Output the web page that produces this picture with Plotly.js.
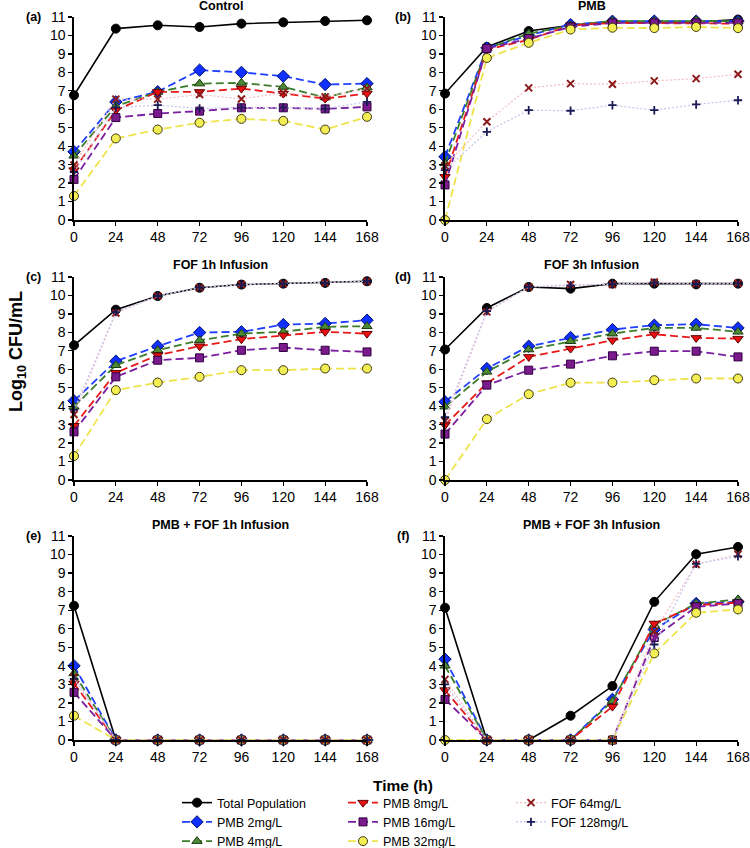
<!DOCTYPE html>
<html><head><meta charset="utf-8">
<script src="https://cdn.plot.ly/plotly-3.0.1.min.js"></script>
<style>body{margin:0;padding:0;background:#fff}#chart{width:750px;height:848px}</style>
</head><body><div id="chart"></div>
<script>
// ---------- DATA ----------
const hours = [0, 24, 48, 72, 96, 120, 144, 168];
const hourTicks = ['0', '24', '48', '72', '96', '120', '144', '168'];
const logTicks = [0, 1, 2, 3, 4, 5, 6, 7, 8, 9, 10, 11];
const panelTitles = ['Control', 'PMB', 'FOF 1h Infusion', 'FOF 3h Infusion', 'PMB + FOF 1h Infusion', 'PMB + FOF 3h Infusion'];
const panelLabels = ['(a)', '(b)', '(c)', '(d)', '(e)', '(f)'];
const seriesNames = ['Total Population', 'PMB 2mg/L', 'PMB 4mg/L', 'PMB 8mg/L', 'PMB 16mg/L', 'PMB 32mg/L', 'FOF 64mg/L', 'FOF 128mg/L'];

// each row is one panel: (a) .. (f)
const totalPopulation = [
  [6.76, 10.37, 10.55, 10.46, 10.64, 10.71, 10.78, 10.82],
  [6.85, 9.38, 10.24, 10.55, 10.73, 10.73, 10.73, 10.86],
  [7.30, 9.23, 9.97, 10.42, 10.59, 10.64, 10.68, 10.77],
  [7.07, 9.32, 10.46, 10.37, 10.64, 10.64, 10.60, 10.64],
  [7.24, 0, 0, 0, 0, 0, 0, 0],
  [7.13, 0, 0, 1.31, 2.91, 7.45, 10.02, 10.41]
];
const pmb2 = [
  [3.70, 6.40, 6.95, 8.12, 8.00, 7.79, 7.34, 7.39],
  [3.43, 9.32, 10.00, 10.59, 10.77, 10.78, 10.78, 10.78],
  [4.29, 6.44, 7.25, 7.99, 8.03, 8.42, 8.48, 8.66],
  [4.24, 6.04, 7.25, 7.72, 8.15, 8.39, 8.44, 8.24],
  [4.00, 0, 0, 0, 0, 0, 0, 0],
  [4.36, 0, 0, 0, 2.19, 5.96, 7.36, 7.45]
];
const pmb4 = [
  [3.48, 6.17, 6.94, 7.39, 7.43, 7.21, 6.64, 7.18],
  [3.07, 9.29, 10.10, 10.55, 10.78, 10.78, 10.82, 10.78],
  [3.97, 6.22, 7.03, 7.57, 7.93, 8.03, 8.30, 8.33],
  [3.97, 5.86, 7.07, 7.52, 7.93, 8.24, 8.24, 8.03],
  [3.59, 0, 0, 0, 0, 0, 0, 0],
  [4.00, 0, 0, 0, 2.10, 6.19, 7.36, 7.58]
];
const pmb8 = [
  [2.70, 5.95, 6.94, 6.94, 7.12, 6.85, 6.58, 6.85],
  [2.34, 9.23, 9.77, 10.55, 10.68, 10.68, 10.68, 10.64],
  [2.94, 5.81, 6.76, 7.25, 7.63, 7.84, 8.03, 7.93],
  [2.98, 5.25, 6.67, 7.12, 7.57, 7.90, 7.70, 7.66],
  [3.05, 0, 0, 0, 0, 0, 0, 0],
  [2.69, 0, 0, 0, 1.80, 6.28, 7.27, 7.41]
];
const pmb16 = [
  [2.20, 5.55, 5.77, 5.90, 6.08, 6.08, 6.02, 6.13],
  [1.90, 9.29, 9.83, 10.46, 10.68, 10.68, 10.68, 10.68],
  [2.61, 5.59, 6.49, 6.62, 7.03, 7.18, 7.03, 6.94],
  [2.49, 5.14, 5.95, 6.28, 6.73, 6.98, 6.98, 6.67],
  [2.57, 0, 0, 0, 0, 0, 0, 0],
  [2.19, 0, 0, 0, 0, 5.53, 7.18, 7.36]
];
const pmb32 = [
  [1.30, 4.42, 4.90, 5.27, 5.48, 5.37, 4.90, 5.59],
  [0, 8.78, 9.60, 10.32, 10.42, 10.40, 10.46, 10.40],
  [1.30, 4.87, 5.28, 5.59, 5.95, 5.95, 6.04, 6.04],
  [0, 3.30, 4.65, 5.27, 5.28, 5.41, 5.50, 5.50],
  [1.31, 0, 0, 0, 0, 0, 0, 0],
  [0, 0, 0, 0, 0, 4.67, 6.86, 7.04]
];
const fof64 = [
  [2.98, 6.55, 6.55, 6.80, 6.56, 6.90, 6.67, 7.12],
  [2.94, 5.32, 7.16, 7.39, 7.36, 7.54, 7.66, 7.90],
  [3.55, 9.05, 9.97, 10.42, 10.59, 10.64, 10.68, 10.77],
  [3.19, 9.11, 10.46, 10.59, 10.59, 10.73, 10.64, 10.66],
  [3.40, 0, 0, 0, 0, 0, 0, 0],
  [3.27, 0, 0, 0, 0, 5.85, 9.46, 10.02]
];
const fof128 = [
  [2.60, 6.10, 6.22, 6.04, 6.10, 6.10, 6.04, 6.40],
  [2.70, 4.78, 5.95, 5.92, 6.22, 5.95, 6.26, 6.49],
  [3.80, 9.10, 9.97, 10.42, 10.59, 10.64, 10.68, 10.77],
  [3.40, 9.15, 10.46, 10.55, 10.62, 10.68, 10.62, 10.64],
  [3.30, 0, 0, 0, 0, 0, 0, 0],
  [3.00, 0, 0, 0, 0, 5.15, 9.50, 9.90]
];

// ---------- STYLES ----------
const seriesData = [totalPopulation, pmb2, pmb4, pmb8, pmb16, pmb32, fof64, fof128];
const DASH = '8px,4px';
const styles = [
  {line: {color: '#000000', width: 1.6}, marker: {symbol: 'circle', size: 9, color: '#000000', line: {color: '#000000', width: 1}}},
  {line: {color: '#1f3fff', width: 1.8, dash: DASH}, marker: {symbol: 'diamond', size: 9.5, color: '#1030ff', line: {color: '#001070', width: 1}}},
  {line: {color: '#3b7d2a', width: 1.8, dash: DASH}, marker: {symbol: 'triangle-up', size: 9, color: '#4d8a35', line: {color: '#1a3a10', width: 1}}},
  {line: {color: '#e81818', width: 1.8, dash: DASH}, marker: {symbol: 'triangle-down', size: 9, color: '#e81010', line: {color: '#600000', width: 1}}},
  {line: {color: '#7a1fa0', width: 1.8, dash: DASH}, marker: {symbol: 'square', size: 8, color: '#7a1a8c', line: {color: '#300040', width: 1}}},
  {line: {color: '#efe34a', width: 1.8, dash: DASH}, marker: {symbol: 'circle', size: 9, color: '#f4ee55', line: {color: '#403a10', width: 1}}},
  {line: {color: '#f2bcc6', width: 1.2, dash: '2px,2px'}, marker: {symbol: 'x-thin-open', size: 7, color: '#8b1a1a', line: {color: '#8b1a1a', width: 2}}},
  {line: {color: '#c4c4ee', width: 1.2, dash: '2px,2px'}, marker: {symbol: 'cross-thin-open', size: 6, color: '#1a1a55', line: {color: '#1a1a55', width: 1.8}}}
];
const legendOf = ['legend', 'legend', 'legend', 'legend2', 'legend2', 'legend2', 'legend3', 'legend3'];

const W = 750, H = 848;
const colX = [[74 / W, 367 / W], [445 / W, 738 / W]];
const rowY = [[1 - 220 / H, 1 - 17 / H], [1 - 480 / H, 1 - 277 / H], [1 - 740 / H, 1 - 536 / H]];
const titleY = [6, 265, 525];
const labelY = [17, 277, 536];
const labelX = [33, 403];
const legendLeft = [177, 343, 511];
const legendTop = 788;

const traces = [];
const layout = {
  width: W, height: H,
  margin: {l: 0, r: 0, t: 0, b: 0, autoexpand: false},
  paper_bgcolor: '#ffffff', plot_bgcolor: '#ffffff',
  font: {family: 'Liberation Sans, Arial, sans-serif', color: '#000000'},
  showlegend: true,
  annotations: []
};
['legend', 'legend2', 'legend3'].forEach(function (lg, i) {
  layout[lg] = {
    orientation: 'v', x: legendLeft[i] / W, xanchor: 'left', y: 1 - legendTop / H, yanchor: 'top',
    font: {size: 12.5, color: '#000'}, bgcolor: 'rgba(0,0,0,0)', borderwidth: 0,
    tracegroupgap: 0, itemwidth: 30
  };
});

for (let p = 0; p < 6; p++) {
  const col = p % 2, row = Math.floor(p / 2);
  const sfx = p === 0 ? '' : String(p + 1);
  for (let s = 0; s < seriesData.length; s++) {
    traces.push(Object.assign({
      type: 'scatter', mode: 'lines+markers',
      x: hours, y: seriesData[s][p],
      name: seriesNames[s], legend: legendOf[s],
      showlegend: p === 0,
      xaxis: 'x' + sfx, yaxis: 'y' + sfx,
      cliponaxis: false, hoverinfo: 'x+y+name'
    }, JSON.parse(JSON.stringify(styles[s]))));
  }
  const axCommon = {
    showgrid: false, zeroline: false, showline: true, linecolor: '#000', linewidth: 1.6,
    ticks: 'outside', ticklen: 4, tickwidth: 1.2, tickcolor: '#000',
    tickfont: {size: 14, color: '#000'}, fixedrange: true
  };
  layout['xaxis' + sfx] = Object.assign({}, axCommon, {
    domain: colX[col], range: [0, 168], tickvals: hours, ticktext: hourTicks,
    anchor: 'y' + sfx
  });
  layout['yaxis' + sfx] = Object.assign({}, axCommon, {
    domain: rowY[row], range: [0, 11], tickvals: logTicks,
    anchor: 'x' + sfx
  });
  layout.annotations.push({
    text: '<b>' + panelTitles[p] + '</b>', xref: 'paper', yref: 'paper',
    x: (colX[col][0] + colX[col][1]) / 2, y: 1 - titleY[row] / H,
    showarrow: false, font: {size: 12.5}, xanchor: 'center', yanchor: 'middle'
  });
  layout.annotations.push({
    text: '<b>' + panelLabels[p] + '</b>', xref: 'paper', yref: 'paper',
    x: labelX[col] / W, y: 1 - labelY[row] / H,
    showarrow: false, font: {size: 12.5}, xanchor: 'center', yanchor: 'middle'
  });
}
layout.annotations.push({
  text: '<b>Log<sub>10</sub> CFU/mL</b>', xref: 'paper', yref: 'paper',
  x: 17 / W, y: 1 - 352 / H, textangle: -90, showarrow: false,
  font: {size: 18}, xanchor: 'center', yanchor: 'middle'
});
layout.annotations.push({
  text: '<b>Time (h)</b>', xref: 'paper', yref: 'paper',
  x: 403 / W, y: 1 - 785 / H, showarrow: false,
  font: {size: 15.5}, xanchor: 'center', yanchor: 'middle'
});

Plotly.newPlot('chart', traces, layout, {displayModeBar: false, staticPlot: true});
</script>
</body></html>
